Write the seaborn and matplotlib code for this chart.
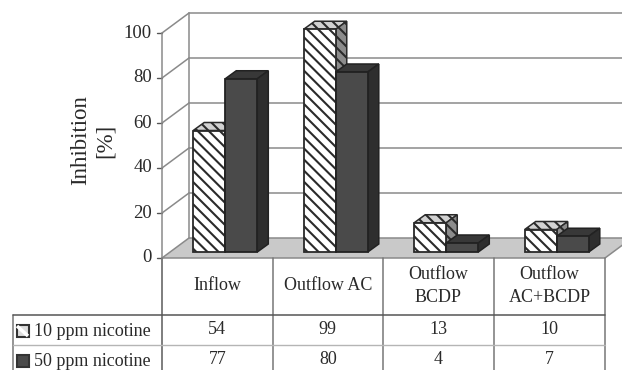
import matplotlib
matplotlib.use("Agg")
import matplotlib.pyplot as plt
from matplotlib.patches import Polygon, Rectangle
import pandas as pd
import seaborn as sns

categories = ["Inflow", "Outflow AC", "Outflow\nBCDP", "Outflow\nAC+BCDP"]
nicotine_10 = [54, 99, 13, 10]
nicotine_50 = [77, 80, 4, 7]
series_names = ["10 ppm nicotine", "50 ppm nicotine"]
y_ticks = [0, 20, 40, 60, 80, 100]

W, H = 622, 370
PX_PER_UNIT = 2.25
GRID = "#8a8a8a"
DARK = "#4a4a4a"
INK = "#2a2a2a"

sns.set_style("white")
plt.rcParams["font.family"] = ["Liberation Serif", "DejaVu Serif"]
plt.rcParams["hatch.linewidth"] = 1.5

df = pd.DataFrame({
    "cat": categories * 2,
    "val": nicotine_10 + nicotine_50,
    "series": [series_names[0]] * 4 + [series_names[1]] * 4,
})

fig = plt.figure(figsize=(W / 100, H / 100), dpi=100)

# frame: walls, floor and table in pixel coordinates
bg = fig.add_axes([0, 0, 1, 1])
bg.set_xlim(0, W)
bg.set_ylim(H, 0)
bg.axis("off")

front_x, back_x = 162, 189
front_0, back_0 = 258, 238
right_x = 605
bg.add_patch(Polygon([(front_x, front_0), (back_x, back_0), (right_x + 27, back_0), (right_x, front_0)],
                     fc="#c9c9c9", ec=GRID, lw=1.1, zorder=1))
for v in y_ticks:
    yf = front_0 - v * PX_PER_UNIT
    yb = back_0 - v * PX_PER_UNIT
    if v > 0:
        bg.plot([back_x, W], [yb, yb], color=GRID, lw=1.1, zorder=1)
        bg.plot([front_x, back_x], [yf, yb], color=GRID, lw=1.1, zorder=1)
    bg.plot([front_x - 5, front_x], [yf, yf], color="#555555", lw=1, zorder=1)
    bg.text(152, yf, str(v), ha="right", va="center", fontsize=13.5, color=INK)
bg.plot([front_x, front_x], [front_0 - 100 * PX_PER_UNIT, H], color=GRID, lw=1.1, zorder=1)
bg.plot([back_x, back_x], [back_0, back_0 - 100 * PX_PER_UNIT], color=GRID, lw=1.1, zorder=1)
bg.text(81, 140.5, "Inhibition", rotation=90, ha="center", va="center", fontsize=16.5, color=INK)
bg.text(105, 141, "[%]", rotation=90, ha="center", va="center", fontsize=16.5, color=INK)

# data table
col_edges = [162, 272.5, 383, 494, 605]
row_top, row_mid = 315, 345
for x in col_edges:
    bg.plot([x, x], [front_0, H], color="#777777", lw=1.1, zorder=2)
bg.plot([13, 13], [row_top, H], color="#777777", lw=1.1, zorder=2)
bg.plot([13, right_x], [row_top, row_top], color="#555555", lw=1.1, zorder=2)
bg.plot([13, right_x], [row_mid, row_mid], color="#b5b5b5", lw=1, zorder=2)
for i, cat in enumerate(categories):
    cx = (col_edges[i] + col_edges[i + 1]) / 2
    bg.text(cx, 286, cat, ha="center", va="center", fontsize=13, color=INK, linespacing=1.45)
    bg.text(cx, 330, str(nicotine_10[i]), ha="center", va="center", fontsize=13, color=INK)
    bg.text(cx, 360, str(nicotine_50[i]), ha="center", va="center", fontsize=13, color=INK)
bg.add_patch(Rectangle((16.5, 325), 12, 12, fc="#dddddd", ec="#333333", lw=1.5, zorder=3))
bg.add_patch(Rectangle((16.5, 355), 12, 12, fc=DARK, ec="#333333", lw=1.5, zorder=3))
bg.text(34, 331, series_names[0], ha="left", va="center", fontsize=13, color=INK)
bg.text(34, 361, series_names[1], ha="left", va="center", fontsize=13, color=INK)

# bars: value 0 sits on the floor, one category step = 110.5 px
bar_base = 252
step = 110.5
ax = fig.add_axes([170 / W, 1 - bar_base / H, 4 * step / W, 110 * PX_PER_UNIT / H])
sns.barplot(data=df, x="cat", y="val", hue="series", order=categories, hue_order=series_names,
            palette=["white", DARK], width=0.58, gap=0, legend=False, ax=ax, zorder=3)
ax.set_xlim(-0.5, 3.5)
ax.set_ylim(0, 110)
ax.axis("off")
ax.patch.set_visible(False)

dx = 11 / step
dy = 8 / PX_PER_UNIT
styles = [
    dict(top="#d2d2d2", side="#8c8c8c", hatch="\\\\\\", edge="#2a2a2a"),
    dict(top="#383838", side="#2e2e2e", hatch=None, edge="#222222"),
]
for s, cont in enumerate(ax.containers):
    st = styles[s]
    for bar in cont:
        x0, w, h = bar.get_x(), bar.get_width(), bar.get_height()
        z = 3 + s
        bar.set(edgecolor=st["edge"], linewidth=1.3, zorder=z + 0.2, clip_on=False)
        if st["hatch"]:
            bar.set_hatch(st["hatch"])
        top = Polygon([(x0, h), (x0 + dx, h + dy), (x0 + w + dx, h + dy), (x0 + w, h)],
                      fc=st["top"], ec=st["edge"], lw=1.1, hatch=st["hatch"], zorder=z, clip_on=False)
        side = Polygon([(x0 + w, 0), (x0 + w + dx, dy), (x0 + w + dx, h + dy), (x0 + w, h)],
                       fc=st["side"], ec=st["edge"], lw=1.1, hatch=st["hatch"], zorder=z, clip_on=False)
        ax.add_patch(top)
        ax.add_patch(side)

# diagonal stripe in the 10 ppm key
bg.plot([17, 28], [326, 336], color="white", lw=2.5, zorder=4, solid_capstyle="butt")

fig.savefig("out.png", dpi=100)
